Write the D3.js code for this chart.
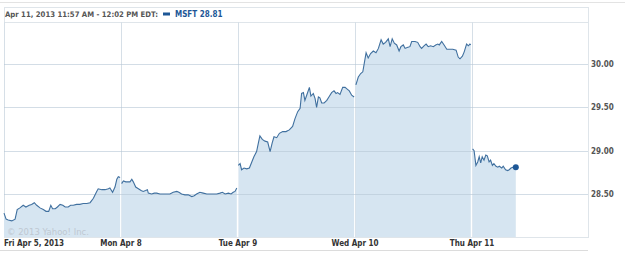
<!DOCTYPE html>
<html>
<head>
<meta charset="utf-8">
<script src="https://cdn.jsdelivr.net/npm/d3@7"></script>
<style>
	body { margin: 0; background: #fff; }
	text { font-family: "DejaVu Sans Condensed", "DejaVu Sans", sans-serif; }
</style>
</head>
<body>
<div id="chart"></div>
<script>
	// trading minutes since Fri Apr 5 open (390 per session) and MSFT price
	var minutes = [
		0,7,14,26,37,44,53,64,73,84,92,101,109,120,131,140,149,156,162,171,178,187,196,204,214,222,231,242,253,264,276,287,298,309,314,326,337,348,353,362,370,376,381,387,
		392,398,406,414,420,426,431,439,448,457,464,472,478,481,492,501,509,520,531,542,553,564,576,583,592,603,614,626,634,642,653,664,676,687,698,709,720,728,737,748,757,764,770,776,
		781,787,792,800,809,818,826,833,842,848,853,861,870,879,887,894,900,909,918,929,940,951,962,970,979,987,992,998,1003,1011,1018,1023,1031,1037,1042,1048,1053,1059,1067,1076,1083,1092,1100,1107,1112,1120,1129,1137,1144,1151,1159,1167,
		1173,1181,1189,1196,1201,1207,1214,1222,1231,1240,1248,1257,1264,1272,1281,1287,1294,1301,1309,1317,1323,1331,1337,1344,1353,1359,1370,1379,1387,1392,1400,1407,1414,1422,1431,1439,1446,1451,1459,1467,1476,1484,1496,1507,1514,1520,1528,1534,1542,1548,1553,1556,
		1562,1567,1573,1579,1584,1589,1594,1600,1606,1611,1617,1622,1628,1633,1640,1646,1651,1659,1664,1672,1679,1684,1690,1698,1706
	];
	var prices = [
		28.28,28.21,28.20,28.19,28.21,28.32,28.34,28.37,28.35,28.37,28.38,28.40,28.37,28.34,28.32,28.30,28.30,28.37,28.33,28.33,28.35,28.38,28.37,28.35,28.35,28.37,28.37,28.38,28.38,28.39,28.39,28.40,28.45,28.53,28.56,28.55,28.55,28.56,28.57,28.52,28.58,28.67,28.70,28.69,
		28.62,28.65,28.64,28.64,28.64,28.67,28.64,28.58,28.56,28.54,28.53,28.54,28.55,28.51,28.50,28.51,28.51,28.50,28.50,28.50,28.50,28.52,28.53,28.52,28.50,28.49,28.49,28.47,28.48,28.50,28.52,28.51,28.50,28.50,28.50,28.50,28.51,28.52,28.50,28.51,28.50,28.52,28.53,28.57,
		28.83,28.85,28.78,28.80,28.79,28.80,28.87,28.93,28.99,29.09,29.17,29.13,29.11,29.10,28.99,29.09,29.16,29.15,29.20,29.22,29.22,29.24,29.28,29.37,29.45,29.49,29.66,29.67,29.58,29.66,29.73,29.63,29.66,29.60,29.50,29.62,29.61,29.55,29.55,29.58,29.62,29.67,29.69,29.66,29.67,29.65,29.73,29.73,29.71,29.69,29.64,29.62,
		29.76,29.85,29.89,29.91,30.01,30.13,30.07,30.12,30.15,30.13,30.18,30.28,30.23,30.25,30.29,30.20,30.29,30.24,30.22,30.15,30.20,30.22,30.18,30.19,30.20,30.26,30.26,30.25,30.20,30.18,30.21,30.23,30.20,30.21,30.20,30.22,30.23,30.22,30.26,30.22,30.17,30.17,30.17,30.16,30.08,30.06,30.09,30.14,30.23,30.21,30.23,30.22,
		29.02,29.00,28.83,28.87,28.93,28.86,28.93,28.89,28.95,28.94,28.87,28.89,28.83,28.85,28.82,28.81,28.82,28.80,28.82,28.78,28.77,28.78,28.80,28.81,28.81
	];
	var dayLabels = ["Fri Apr 5, 2013", "Mon Apr 8", "Tue Apr 9", "Wed Apr 10", "Thu Apr 11"];
	var dayStarts = [0, 390, 780, 1170, 1560];
	var priceTicks = [28.5, 29.0, 29.5, 30.0];
	var headerText = "Apr 11, 2013 11:57 AM - 12:02 PM EDT:";
	var symbol = "MSFT", lastPrice = 28.81;

	var w = 625, h = 253,
		plot = {l: 4, r: 588, t: 22, b: 237};

	var x = d3.scaleLinear().domain([0, 1950]).range([plot.l, plot.l + 585]),
		y = d3.scaleLinear().domain([28.5, 30]).range([194, 64]);

	var svg = d3.select("#chart").append("svg")
		.attr("width", w)
		.attr("height", h);

	var data = minutes.map(function(m, i) { return {m: m, p: prices[i]}; });
	// one segment per trading session
	var sessions = d3.groups(data, function(d) { return Math.floor(d.m / 390); }).map(function(g) { return g[1]; });

	// frame
	svg.append("line").attr("x1", 0).attr("x2", w).attr("y1", 2.5).attr("y2", 2.5)
		.style("stroke", "#e3e3e3");
	svg.append("rect")
		.attr("x", plot.l + 0.5).attr("y", 7.5)
		.attr("width", plot.r - plot.l).attr("height", plot.b - 7)
		.style("fill", "none").style("stroke", "#dfe5ea");
	svg.append("line").attr("x1", plot.l).attr("x2", plot.r).attr("y1", plot.t + 0.5).attr("y2", plot.t + 0.5)
		.style("stroke", "#dfe5ea");
	svg.append("line").attr("x1", 0).attr("x2", plot.r).attr("y1", 250.5).attr("y2", 250.5)
		.style("stroke", "#dcdcdc");

	// vertical day grid (under the fill)
	svg.append("g").selectAll("line")
		.data(dayStarts)
		.enter().append("line")
		.attr("x1", function(d) { return Math.round(x(d)) + 0.5; })
		.attr("x2", function(d) { return Math.round(x(d)) + 0.5; })
		.attr("y1", plot.t).attr("y2", plot.b)
		.style("stroke", "#d6dfe7");

	var area = d3.area()
		.x(function(d) { return x(d.m); })
		.y0(plot.b)
		.y1(function(d) { return y(d.p); });

	var line = d3.line()
		.x(function(d) { return x(d.m); })
		.y(function(d) { return y(d.p); });

	svg.append("g").selectAll("path")
		.data(sessions)
		.enter().append("path")
		.attr("d", area)
		.style("fill", "#d6e5f1");

	// light day dividers inside the filled area
	svg.append("clipPath").attr("id", "fillclip")
		.selectAll("path")
		.data(sessions)
		.enter().append("path")
		.attr("d", area);

	svg.append("g").attr("clip-path", "url(#fillclip)")
		.selectAll("line")
		.data(dayStarts.slice(1))
		.enter().append("line")
		.attr("x1", function(d) { return Math.round(x(d)) + 0.5; })
		.attr("x2", function(d) { return Math.round(x(d)) + 0.5; })
		.attr("y1", plot.t).attr("y2", plot.b)
		.style("stroke", "#eef3f8");

	// horizontal grid
	svg.append("g").selectAll("line")
		.data(priceTicks)
		.enter().append("line")
		.attr("x1", plot.l).attr("x2", plot.r)
		.attr("y1", function(d) { return Math.round(y(d)) + 0.5; })
		.attr("y2", function(d) { return Math.round(y(d)) + 0.5; })
		.style("stroke", "#b6c7d6")
		.style("stroke-opacity", 0.6);

	// price line
	svg.append("g").selectAll("path")
		.data(sessions)
		.enter().append("path")
		.attr("d", line)
		.style("fill", "none")
		.style("stroke", "#40709f")
		.style("stroke-width", 1.1);

	var last = data[data.length - 1];
	svg.append("circle")
		.attr("cx", x(last.m)).attr("cy", y(last.p)).attr("r", 3)
		.style("fill", "#1d5796");

	// price labels
	svg.append("g").selectAll("text")
		.data(priceTicks)
		.enter().append("text")
		.attr("x", plot.r + 3)
		.attr("y", function(d) { return y(d) + 3; })
		.style("font-size", "8px").style("font-weight", "bold")
		.style("fill", "#555")
		.text(function(d) { return d.toFixed(2); });

	// day labels
	svg.append("g").selectAll("text")
		.data(dayStarts)
		.enter().append("text")
		.attr("x", function(d) { return x(d); })
		.attr("y", 246)
		.attr("text-anchor", function(d, i) { return i == 0 ? "start" : "middle"; })
		.style("font-size", "8px").style("font-weight", "bold")
		.style("fill", "#333")
		.text(function(d, i) { return dayLabels[i]; });

	svg.append("text")
		.attr("x", 7).attr("y", 235)
		.style("font-family", "'DejaVu Sans', sans-serif")
		.style("font-size", "8.5px")
		.style("fill", "#bfc8d1")
		.text("\u00a9 2013 Yahoo! Inc.");

	// header
	svg.append("text")
		.attr("x", 5).attr("y", 17)
		.style("font-size", "7.7px").style("font-weight", "bold")
		.style("fill", "#555")
		.text(headerText);
	svg.append("rect")
		.attr("x", 163).attr("y", 12.5).attr("width", 7).attr("height", 3)
		.style("fill", "#1d5796");
	svg.append("text")
		.attr("x", 175).attr("y", 17)
		.style("font-size", "8px").style("font-weight", "bold")
		.style("fill", "#1d5796")
		.text(symbol + " " + lastPrice.toFixed(2));
</script>
</body>
</html>
